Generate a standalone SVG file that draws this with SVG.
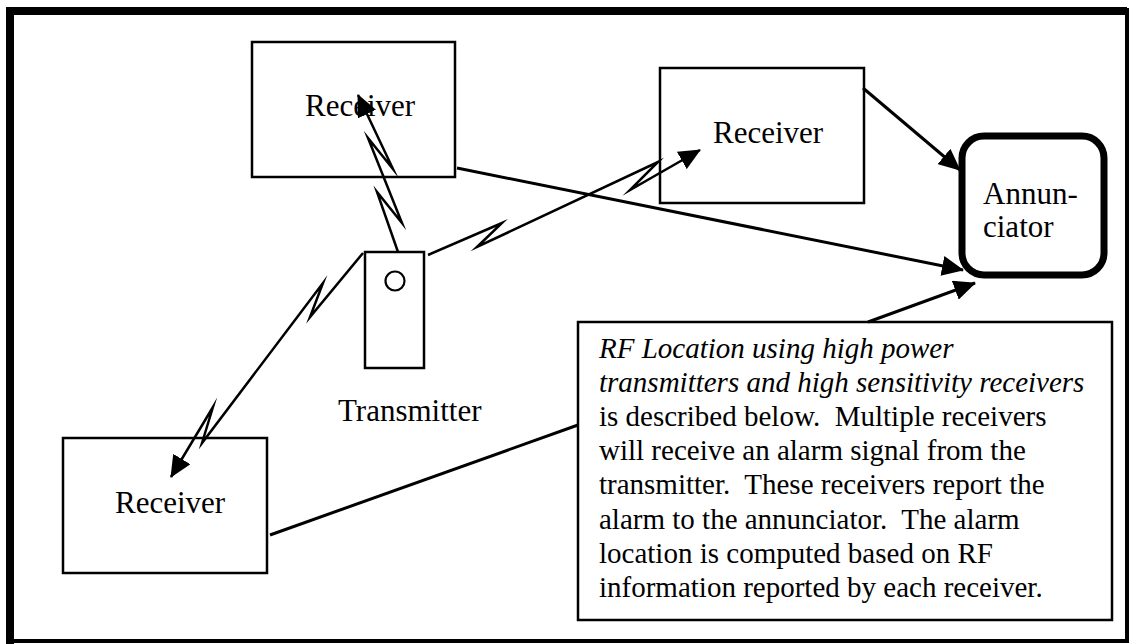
<svg xmlns="http://www.w3.org/2000/svg" width="1129" height="644" viewBox="0 0 1129 644">
  <style>
    .box { fill: #fff; stroke: #000; stroke-width: 2.5; }
    .label { font-family: "Liberation Serif", "Times New Roman", serif; font-size: 31px; fill: #000; }
    .note { font-family: "Liberation Serif", "Times New Roman", serif; font-size: 29px; fill: #000; }
    .link { fill: none; stroke: #000; stroke-width: 3; }
    .bolt { fill: none; stroke: #000; stroke-width: 2.5; stroke-linejoin: miter; stroke-miterlimit: 10; }
  </style>
  <defs>
    <marker id="arrow" markerUnits="userSpaceOnUse" markerWidth="22" markerHeight="20" viewBox="0 0 22 20" refX="21" refY="10" orient="auto">
      <path d="M0,0 L22,10 L0,20 z" fill="#000"/>
    </marker>
  </defs>

  <rect width="1129" height="644" fill="#fff"/>

  <!-- page frame -->
  <path d="M10,644 L10,11 L1127,11" fill="none" stroke="#000" stroke-width="8"/>
  <line x1="1127" y1="8" x2="1127" y2="643" stroke="#000" stroke-width="4"/>
  <line x1="6" y1="641" x2="1129" y2="641" stroke="#000" stroke-width="4"/>

  <g id="receiver-top-left">
    <rect class="box" x="252" y="42" width="203" height="135"/>
    <text class="label" x="305" y="116">Receiver</text>
  </g>

  <g id="receiver-right">
    <rect class="box" x="660" y="68" width="204" height="135"/>
    <text class="label" x="713" y="143">Receiver</text>
  </g>

  <g id="receiver-bottom-left">
    <rect class="box" x="63" y="438" width="204" height="135"/>
    <text class="label" x="115" y="513">Receiver</text>
  </g>

  <g id="transmitter">
    <rect class="box" x="365" y="252" width="59" height="116"/>
    <circle cx="395" cy="281" r="9.5" fill="#fff" stroke="#000" stroke-width="2.2"/>
    <text class="label" x="338" y="421">Transmitter</text>
  </g>

  <g id="annunciator">
    <rect x="962" y="136" width="142" height="139" rx="22" ry="22" fill="#fff" stroke="#000" stroke-width="7"/>
    <text class="label" x="983" y="204">Annun-</text>
    <text class="label" x="983" y="237">ciator</text>
  </g>

  <g id="description">
    <rect class="box" x="578" y="322" width="534" height="298"/>
    <text class="note" x="599" y="358" font-style="italic">RF Location using high power</text>
    <text class="note" x="599" y="392" font-style="italic">transmitters and high sensitivity receivers</text>
    <text class="note" x="599" y="426" xml:space="preserve">is described below.  Multiple receivers</text>
    <text class="note" x="599" y="460">will receive an alarm signal from the</text>
    <text class="note" x="599" y="494" xml:space="preserve">transmitter.  These receivers report the</text>
    <text class="note" x="599" y="529" xml:space="preserve">alarm to the annunciator.  The alarm</text>
    <text class="note" x="599" y="563">location is computed based on RF</text>
    <text class="note" x="599" y="597">information reported by each receiver.</text>
  </g>

  <g id="connectors">
    <!-- radio links from the transmitter -->
    <path class="bolt" d="M398,252 L377,192 L402,223 L368,138 L393,169 L358,95" marker-end="url(#arrow)"/>
    <path class="bolt" d="M428,255 L502,223 L477,247 L658,162 L630,190 L700,150" marker-end="url(#arrow)"/>
    <path class="bolt" d="M363,253 L310,317 L323,283 L202,443 L213,407 L171,477" marker-end="url(#arrow)"/>
    <!-- receiver reports to the annunciator -->
    <line class="link" x1="457" y1="168" x2="963" y2="270" marker-end="url(#arrow)"/>
    <line class="link" x1="863" y1="88" x2="960" y2="170" marker-end="url(#arrow)"/>
    <line class="link" x1="868" y1="322" x2="975" y2="283" marker-end="url(#arrow)"/>
    <line class="link" x1="270" y1="535" x2="578" y2="425"/>
  </g>
</svg>
